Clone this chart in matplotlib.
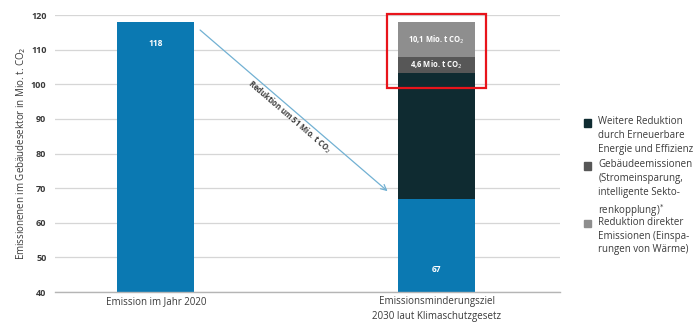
import matplotlib
matplotlib.use('Agg')
import matplotlib.pyplot as plt
from matplotlib.patches import Rectangle

plt.rcParams['font.family'] = ['Open Sans', 'DejaVu Sans']

# values in Mio. t CO2
categories = ['Emission im Jahr 2020', 'Emissionsminderungsziel\n2030 laut Klimaschutzgesetz']
emission_2020 = 118
target_2030 = 67
reduction_direct = 10.1      # Reduktion direkter Emissionen
reduction_buildings = 4.6    # Gebäudeemissionen
reduction_total = emission_2020 - target_2030
reduction_further = reduction_total - reduction_direct - reduction_buildings

legend_labels = [
    'Weitere Reduktion\ndurch Erneuerbare\nEnergie und Effizienz',
    'Gebäudeemissionen\n(Stromeinsparung,\nintelligente Sekto-\nrenkopplung)$^{*}$',
    'Reduktion direkter\nEmissionen (Einspa-\nrungen von Wärme)',
]
yticks = [40, 50, 60, 70, 80, 90, 100, 110, 120]

BLUE = '#0b79b2'
DARK = '#0f2b31'
MID = '#575757'
LIGHT = '#8e8e8e'
TEXT = '#3a3a3a'

fig = plt.figure(figsize=(6.94, 3.27), dpi=100)
ax = fig.add_axes([0.079, 0.107, 0.728, 0.847])

x = [0, 1]
w = 0.275
ax.bar(x[0], emission_2020 - 40, bottom=40, width=w, color=BLUE, zorder=2)
ax.bar(x[1], target_2030 - 40, bottom=40, width=w, color=BLUE, zorder=2)
b1 = target_2030
ax.bar(x[1], reduction_further, bottom=b1, width=w, color=DARK, zorder=2)
b2 = b1 + reduction_further
ax.bar(x[1], reduction_buildings, bottom=b2, width=w, color=MID, zorder=2)
b3 = b2 + reduction_buildings
ax.bar(x[1], reduction_direct, bottom=b3, width=w, color=LIGHT, zorder=2)

# value labels
ax.text(x[0], emission_2020 - 6.2, f'{emission_2020}', color='white', fontsize=6,
        fontweight='bold', ha='center', va='center', zorder=3)
ax.text(x[1], 46.5, f'{target_2030}', color='white', fontsize=6,
        fontweight='bold', ha='center', va='center', zorder=3)
ax.text(x[1], b2 + reduction_buildings / 2, f'{reduction_buildings:.1f}'.replace('.', ',') + ' Mio. t CO$_2$',
        color='white', fontsize=5.5, fontweight='bold', ha='center', va='center', zorder=3)
ax.text(x[1], b3 + reduction_direct / 2, f'{reduction_direct:.1f}'.replace('.', ',') + ' Mio. t CO$_2$',
        color='white', fontsize=5.5, fontweight='bold', ha='center', va='center', zorder=3)

# highlight box around the top segments
ax.add_patch(Rectangle((0.824, 98.9), 0.352, 21.4, fill=False, edgecolor='#e8141b',
                       linewidth=1.6, zorder=4, clip_on=False))

# reduction arrow
ax.annotate('', xy=(0.833, 68.6), xytext=(0.15, 116.2),
            arrowprops=dict(arrowstyle='->', color='#72b1d3', lw=0.9), zorder=3)
ax.text(0.475, 90.5, 'Reduktion um 51 Mio. t CO$_2$', rotation=-40.7, fontsize=5.5,
        fontweight='bold', color=TEXT, ha='center', va='center', rotation_mode='anchor')

ax.set_xlim(-0.36, 1.44)
ax.set_ylim(40, 120)
ax.set_yticks(yticks)
ax.set_yticklabels([str(t) for t in yticks], fontsize=6.5, fontweight='bold', color=TEXT)
ax.set_xticks(x)
ax.set_xticklabels(categories, fontsize=7, color=TEXT, linespacing=1.5)
ax.tick_params(axis='x', length=0, pad=3)
ax.tick_params(axis='y', length=0, pad=6)
ax.grid(axis='y', color='#d6d6d6', linewidth=0.9, zorder=0)
ax.set_axisbelow(True)
for s in ['top', 'right', 'left']:
    ax.spines[s].set_visible(False)
ax.spines['bottom'].set_color('#b5b5b5')
ax.spines['bottom'].set_linewidth(1.0)
ax.set_ylabel('Emissionenen im Gebäudesektor in Mio. t. CO$_2$', fontsize=7, color=TEXT, labelpad=2)

# legend drawn as text blocks on the right
legend_colors = [DARK, MID, LIGHT]
line_px = 14.4
y_px = 122.7
for lab, col in zip(legend_labels, legend_colors):
    ly = 1 - y_px / 327
    fig.patches.append(Rectangle((0.841, ly - 0.012), 0.011, 0.024, color=col,
                                 transform=fig.transFigure, figure=fig))
    fig.text(0.862, ly + 0.021, lab, fontsize=7, color=TEXT, va='top', ha='left', linespacing=1.36)
    y_px += line_px * (lab.count('\n') + 1)

fig.savefig('out.png', dpi=100, facecolor='white')
